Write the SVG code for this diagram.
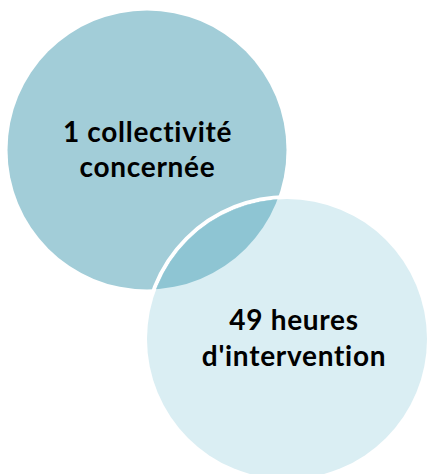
<svg xmlns="http://www.w3.org/2000/svg" width="430" height="474" viewBox="0 0 430 474">
<style>
.lbl{font-family:Lato,"Liberation Sans",sans-serif;font-weight:bold;font-size:28px;letter-spacing:0.7px;font-variant-ligatures:none;fill:#000;text-anchor:middle}
</style>
<defs>
<clipPath id="c1"><circle cx="147" cy="150" r="139.5"/></clipPath>
</defs>
<rect width="430" height="474" fill="#fff"/>
<g id="node1">
<circle cx="147" cy="150" r="139.5" fill="#A2CDD8"/>
</g>
<g id="node2">
<circle cx="287" cy="339" r="142" fill="none" stroke="#fff" stroke-width="4"/>
<circle cx="287" cy="339" r="140" fill="#DAEEF3"/>
<circle cx="287" cy="339" r="140" fill="#8EC5D3" clip-path="url(#c1)"/>
</g>
<g id="connectors"></g>
<g id="labels">
<text class="lbl" x="147.5" y="142">1 collectivité</text>
<text class="lbl" x="147.5" y="177">concernée</text>
<text class="lbl" x="294" y="330">49 heures</text>
<text class="lbl" x="294" y="366">d'intervention</text>
</g>
</svg>
